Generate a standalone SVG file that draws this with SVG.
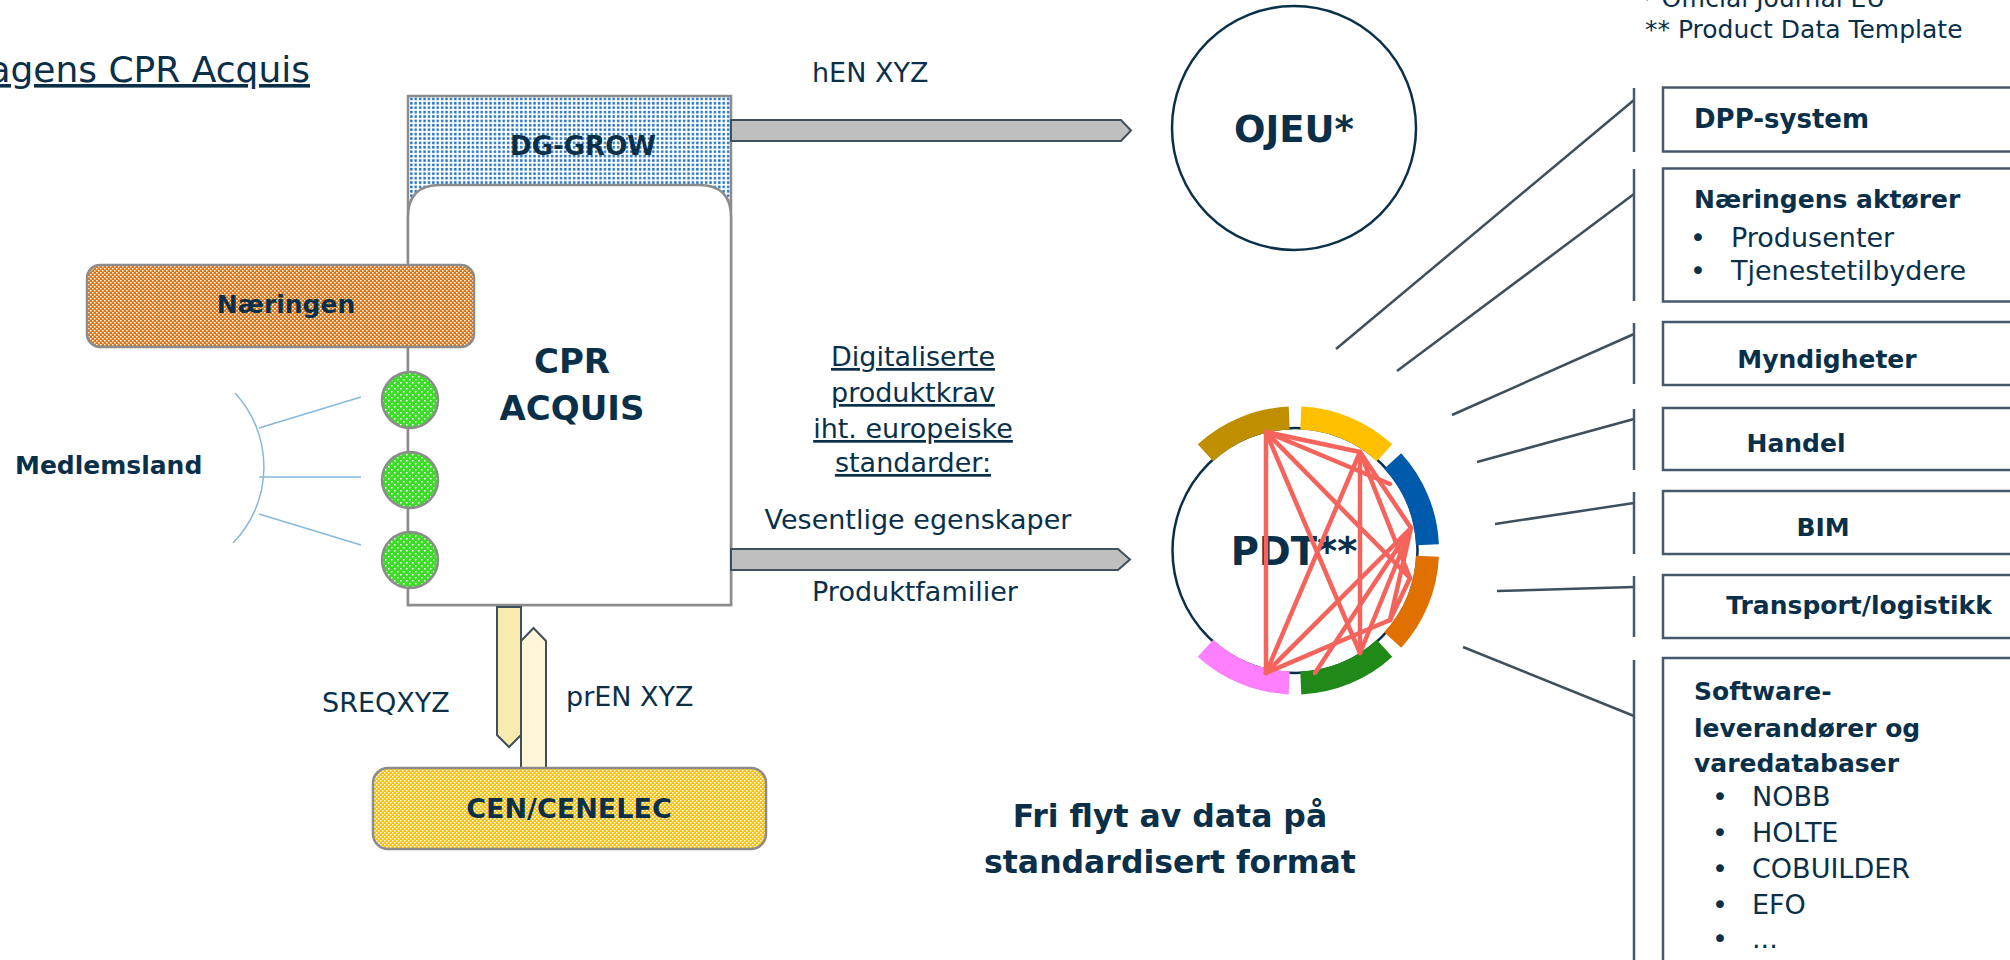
<svg xmlns="http://www.w3.org/2000/svg" width="2010" height="960" viewBox="0 0 2010 960">
<defs>
<style>
text { font-family: "DejaVu Sans", "Liberation Sans", sans-serif; fill: #0a3049; }
.b { font-weight: bold; }
.r27 { font-size: 27px; }
.lbl { font-size: 25px; font-weight: bold; }
.gbox { stroke: #8c8c8c; stroke-width: 2.5; }
.rbox { fill: #fff; stroke: #46596a; stroke-width: 2.5; }
.bar { stroke: #46596a; stroke-width: 2.5; }
.conn { stroke: #3e505c; stroke-width: 2.5; fill: none; }
.garrow { fill: #bfbfbf; stroke: #3e505c; stroke-width: 2; }
.yarrow { stroke: #3e505c; stroke-width: 2; }
.mline { stroke: #86b8dc; stroke-width: 1.5; fill: none; }
.net { stroke: #f4645c; stroke-width: 4.5; stroke-linecap: round; }
.band { fill: none; stroke-width: 23; }
.ul { text-decoration: underline; }
</style>
<pattern id="dots" width="4.4" height="4.4" patternUnits="userSpaceOnUse">
<rect width="4.4" height="4.4" fill="#fff"/>
<rect x="1" y="0.8" width="2.3" height="2.6" fill="#1b6fc4"/>
</pattern>
<pattern id="orangeCheck" width="4" height="4" patternUnits="userSpaceOnUse">
<rect width="4" height="4" fill="#e4730b"/>
<rect width="1.5" height="1.5" fill="#fff"/>
<rect x="2" y="2" width="1.5" height="1.5" fill="#fff"/>
</pattern>
<pattern id="yellowCheck" width="4" height="4" patternUnits="userSpaceOnUse">
<rect width="4" height="4" fill="#ffc000"/>
<rect width="1.5" height="1.5" fill="#fff"/>
<rect x="2" y="2" width="1.5" height="1.5" fill="#fff"/>
</pattern>
<pattern id="greenDots" width="6" height="6" patternUnits="userSpaceOnUse">
<rect width="6" height="6" fill="#3edb2b"/>
<rect x="1" y="1" width="1.5" height="1.5" fill="#fff"/>
<rect x="4" y="4" width="1.5" height="1.5" fill="#fff"/>
</pattern>
</defs>

<rect width="2010" height="960" fill="#fff"/>

<g id="title">
<text x="310" y="82" text-anchor="end" font-size="36" class="ul">agens CPR Acquis</text>
</g>

<g id="footnotes">
<text x="1641" y="7" font-size="25">* Official Journal EU</text>
<text x="1645" y="38" font-size="25">** Product Data Template</text>
</g>

<g id="dg-grow">
<rect x="408" y="96" width="323" height="509" fill="url(#dots)" class="gbox"/>
<text x="583" y="155" text-anchor="middle" class="b" font-size="26">DG-GROW</text>
</g>

<g id="cpr-acquis">
<path d="M408,605 V217 Q408,185 440,185 H699 Q731,185 731,217 V605 Z" fill="#fff" class="gbox"/>
<text x="572" y="373" text-anchor="middle" class="b" font-size="34">CPR</text>
<text x="572" y="420" text-anchor="middle" class="b" font-size="34">ACQUIS</text>
</g>

<g id="naeringen">
<rect x="87" y="265" width="387" height="82" rx="13" fill="url(#orangeCheck)" class="gbox"/>
<text x="286" y="313" text-anchor="middle" class="lbl">Næringen</text>
</g>

<g id="medlemsland">
<circle cx="410" cy="400" r="28" fill="url(#greenDots)" class="gbox"/>
<circle cx="410" cy="480" r="28" fill="url(#greenDots)" class="gbox"/>
<circle cx="410" cy="560" r="28" fill="url(#greenDots)" class="gbox"/>
<path d="M235,393 A109,109 0 0 1 233,543" class="mline"/>
<text x="15" y="474" class="lbl">Medlemsland</text>
</g>

<g id="connectors">
<line x1="259" y1="428" x2="361" y2="397" class="mline"/>
<line x1="259" y1="477" x2="361" y2="477" class="mline"/>
<line x1="259" y1="514" x2="361" y2="545" class="mline"/>
<polygon points="497,607 521,607 521,735 509,747 497,735" fill="#f9eab0" class="yarrow"/>
<polygon points="521,768 521,641 533.5,628 546,641 546,768" fill="#fff6d8" class="yarrow"/>
<polygon points="731,120 1121,120 1131,130.5 1121,141 731,141" class="garrow"/>
<polygon points="731,549 1118,549 1130,559.5 1118,570 731,570" class="garrow"/>
<line x1="1336" y1="349" x2="1634" y2="100" class="conn"/>
<line x1="1397" y1="371" x2="1634" y2="194" class="conn"/>
<line x1="1452" y1="415" x2="1634" y2="334" class="conn"/>
<line x1="1477" y1="462" x2="1634" y2="419" class="conn"/>
<line x1="1495" y1="524" x2="1634" y2="503" class="conn"/>
<line x1="1497" y1="591" x2="1634" y2="587" class="conn"/>
<line x1="1463" y1="647" x2="1634" y2="716" class="conn"/>
<line x1="1634" y1="88" x2="1634" y2="152" class="bar"/>
<line x1="1634" y1="169" x2="1634" y2="301" class="bar"/>
<line x1="1634" y1="323" x2="1634" y2="384" class="bar"/>
<line x1="1634" y1="409" x2="1634" y2="470" class="bar"/>
<line x1="1634" y1="492" x2="1634" y2="554" class="bar"/>
<line x1="1634" y1="576" x2="1634" y2="637" class="bar"/>
<line x1="1634" y1="660" x2="1634" y2="962" class="bar"/>
</g>

<g id="labels">
<text x="322" y="712" class="r27">SREQXYZ</text>
<text x="566" y="706" class="r27">prEN XYZ</text>
<text x="812" y="82" class="r27">hEN XYZ</text>
<g xml:space="preserve">
<text x="913" y="366" text-anchor="middle" class="r27 ul">Digitaliserte </text>
<text x="913" y="402" text-anchor="middle" class="r27 ul">produktkrav </text>
<text x="913" y="438" text-anchor="middle" class="r27 ul">iht. europeiske </text>
<text x="913" y="472" text-anchor="middle" class="r27 ul">standarder:</text>
</g>
<text x="918" y="529" text-anchor="middle" class="r27">Vesentlige egenskaper</text>
<text x="915" y="601" text-anchor="middle" class="r27">Produktfamilier</text>
</g>

<g id="cen-cenelec">
<rect x="373" y="768" width="393" height="81" rx="15" fill="url(#yellowCheck)" class="gbox"/>
<text x="569" y="818" text-anchor="middle" class="b" font-size="27">CEN/CENELEC</text>
</g>

<g id="ojeu">
<circle cx="1294" cy="128" r="122" fill="#fff" stroke="#0a3049" stroke-width="2.5"/>
<text x="1294" y="142" text-anchor="middle" class="b" font-size="37">OJEU*</text>
</g>

<g id="pdt">
<circle cx="1295" cy="550.5" r="122.5" fill="#fff" stroke="#0a3049" stroke-width="2.5"/>
<path d="M1205.5,452.8 A132.5,132.5 0 0 1 1289.2,418.1" class="band" stroke="#bf8f00"/>
<path d="M1300.8,418.1 A132.5,132.5 0 0 1 1384.5,452.8" class="band" stroke="#ffc000"/>
<path d="M1392.7,461 A132.5,132.5 0 0 1 1427.4,544.7" class="band" stroke="#005aab"/>
<path d="M1427.4,556.3 A132.5,132.5 0 0 1 1392.7,640" class="band" stroke="#e07000"/>
<path d="M1384.5,648.2 A132.5,132.5 0 0 1 1300.8,682.9" class="band" stroke="#1f8a18"/>
<path d="M1289.2,682.9 A132.5,132.5 0 0 1 1205.5,648.2" class="band" stroke="#ff80ff"/>
<text x="1294" y="565" text-anchor="middle" class="b" font-size="38.5">PDT**</text>
<g class="net">
<line x1="1266" y1="432" x2="1360" y2="452"/>
<line x1="1266" y1="432" x2="1390" y2="484"/>
<line x1="1266" y1="432" x2="1410" y2="578"/>
<line x1="1266" y1="432" x2="1360" y2="653"/>
<line x1="1266" y1="432" x2="1266" y2="673"/>
<line x1="1360" y1="452" x2="1360" y2="653"/>
<line x1="1360" y1="452" x2="1266" y2="673"/>
<line x1="1360" y1="452" x2="1411" y2="528"/>
<line x1="1360" y1="452" x2="1410" y2="578"/>
<line x1="1266" y1="673" x2="1411" y2="528"/>
<line x1="1266" y1="673" x2="1390" y2="620"/>
<line x1="1315" y1="673" x2="1411" y2="528"/>
<line x1="1360" y1="653" x2="1411" y2="528"/>
<line x1="1390" y1="620" x2="1410" y2="578"/>
<line x1="1390" y1="620" x2="1411" y2="528"/>
</g>
</g>

<g id="dpp-system">
<rect x="1663" y="87.5" width="400" height="64" class="rbox"/>
<text x="1694" y="128" class="b" font-size="26">DPP-system</text>
</g>

<g id="naeringens-aktorer">
<rect x="1663" y="168.5" width="400" height="133" class="rbox"/>
<text x="1694" y="208" class="lbl">Næringens aktører</text>
<text x="1698" y="247" text-anchor="middle" class="r27">•</text>
<text x="1731" y="247" class="r27">Produsenter</text>
<text x="1698" y="280" text-anchor="middle" class="r27">•</text>
<text x="1731" y="280" class="r27">Tjenestetilbydere</text>
</g>

<g id="myndigheter">
<rect x="1663" y="322" width="400" height="63" class="rbox"/>
<text x="1827" y="368" text-anchor="middle" class="lbl">Myndigheter</text>
</g>

<g id="handel">
<rect x="1663" y="408" width="400" height="62" class="rbox"/>
<text x="1796" y="452" text-anchor="middle" class="lbl">Handel</text>
</g>

<g id="bim">
<rect x="1663" y="491" width="400" height="63" class="rbox"/>
<text x="1823" y="536" text-anchor="middle" class="lbl">BIM</text>
</g>

<g id="transport">
<rect x="1663" y="575" width="400" height="63" class="rbox"/>
<text x="1859" y="614" text-anchor="middle" class="lbl">Transport/logistikk</text>
</g>

<g id="software">
<rect x="1663" y="658" width="400" height="320" class="rbox"/>
<text x="1694" y="700" class="lbl">Software-</text>
<text x="1694" y="737" class="lbl">leverandører og</text>
<text x="1694" y="772" class="lbl">varedatabaser</text>
<text x="1720" y="806" text-anchor="middle" class="r27">•</text>
<text x="1752" y="806" class="r27">NOBB</text>
<text x="1720" y="842" text-anchor="middle" class="r27">•</text>
<text x="1752" y="842" class="r27">HOLTE</text>
<text x="1720" y="878" text-anchor="middle" class="r27">•</text>
<text x="1752" y="878" class="r27">COBUILDER</text>
<text x="1720" y="914" text-anchor="middle" class="r27">•</text>
<text x="1752" y="914" class="r27">EFO</text>
<text x="1720" y="948" text-anchor="middle" class="r27">•</text>
<text x="1752" y="948" class="r27">...</text>
</g>

<g id="fri-flyt">
<text x="1170" y="827" text-anchor="middle" class="b" font-size="31.5">Fri flyt av data på</text>
<text x="1170" y="873" text-anchor="middle" class="b" font-size="31.5">standardisert format</text>
</g>
</svg>
